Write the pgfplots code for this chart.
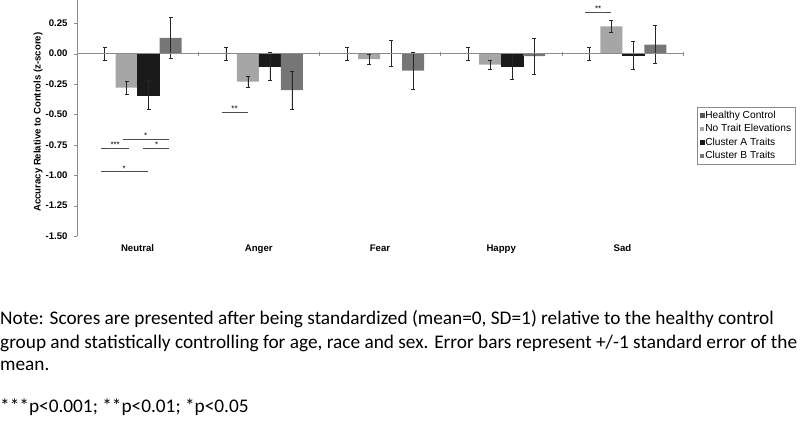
\documentclass[border=0pt]{standalone}
\usepackage{fontspec}
\setmainfont{Carlito}
\newfontfamily\arial{Liberation Sans}
\usepackage{pgfplots}
\usepackage{pgfplotstable}
\pgfplotsset{compat=1.18}

\definecolor{hc}{HTML}{595959}
\definecolor{nt}{HTML}{A6A6A6}
\definecolor{ca}{HTML}{1A1A1A}
\definecolor{cb}{HTML}{767676}
\definecolor{axgray}{HTML}{8C8C8C}

% x: 0 Neutral, 1 Anger, 2 Fear, 3 Happy, 4 Sad
\pgfplotstableread{
x y e
0 0 0.05
1 0 0.05
2 0 0.05
3 0 0.05
4 0 0.05
}\healthy
\pgfplotstableread{
x y e
0 -0.28 0.05
1 -0.23 0.045
2 -0.045 0.04
3 -0.09 0.04
4 0.225 0.05
}\notrait
\pgfplotstableread{
x y e
0 -0.34 0.12
1 -0.10 0.115
2 0.005 0.105
3 -0.105 0.105
4 -0.01 0.115
}\clusterA
\pgfplotstableread{
x y e
0 0.13 0.17
1 -0.30 0.155
2 -0.14 0.15
3 -0.02 0.15
4 0.075 0.155
}\clusterB

\newcommand\cf{\arial\fontsize{9.6}{11}\selectfont}
\newcommand\lf{\arial\fontsize{10.2}{11.5}\selectfont}
\newcommand\starfont{\arial\fontsize{8}{8}\selectfont}

\begin{document}
\begin{tikzpicture}
\useasboundingbox (0,0) rectangle (800pt,426pt);
\begin{axis}[
    at={(77pt,190pt)}, anchor=south west,
    scale only axis,
    width=606pt, height=237pt,
    xmin=-0.5, xmax=4.5,
    ymin=-1.5, ymax=0.45,
    axis y line*=left,
    axis x line*=bottom,
    x axis line style={draw=none},
    y axis line style={axgray},
    xtick={0,1,2,3,4},
    xticklabels={Neutral,Anger,Fear,Happy,Sad},
    xtick style={draw=none},
    xticklabel style={font=\cf\bfseries, yshift=-2pt},
    ytick={-1.5,-1.25,-1,-0.75,-0.5,-0.25,0,0.25},
    ytick style={axgray},
    tick align=outside,
    major tick length=3pt,
    /pgf/number format/assume math mode=true,
    yticklabel style={font=\cf\bfseries, xshift=-3pt, /pgf/number format/fixed,
        /pgf/number format/fixed zerofill, /pgf/number format/precision=2},
    ylabel={Accuracy Relative to Controls (z-score)},
    ylabel style={font=\cf\bfseries, at={(axis description cs:-0.064,0.48)}, anchor=center},
    ybar=0pt, bar width=22pt,
    error bars/y dir=both, error bars/y explicit,
    error bars/error bar style={black!85, line width=0.5pt},
    error bars/error mark options={rotate=90, black!85, mark size=2pt, line width=0.5pt},
    legend style={at={(1.023,0.544)}, anchor=north west, draw=axgray,
        font=\lf, nodes={font=\lf, inner sep=1.3pt}, inner sep=2.5pt, row sep=2pt},
    legend cell align=left,
    legend image code/.code={\fill[#1] (0pt,-2pt) rectangle (4pt,2pt);},
]
\addplot[fill=hc, draw=hc] table[x=x, y=y, y error=e] {\healthy};
\addplot[fill=nt, draw=none] table[x=x, y=y, y error=e] {\notrait};
\addplot[fill=ca, draw=ca] table[x=x, y=y, y error=e] {\clusterA};
\addplot[fill=cb, draw=none] table[x=x, y=y, y error=e] {\clusterB};
\legend{Healthy Control, No Trait Elevations, Cluster A Traits, Cluster B Traits}

% zero line and category separators
\addplot[sharp plot, axgray, line width=0.5pt, forget plot] coordinates {(-0.5,0) (4.5,0)};
\addplot[only marks, mark=|, mark size=2pt, axgray, forget plot] coordinates {(0.5,0) (1.5,0) (2.5,0) (3.5,0) (4.5,0)};

% significance brackets
\addplot[sharp plot, black!70, line width=0.5pt, forget plot] coordinates {(-0.30,-0.78) (-0.07,-0.78)};
\addplot[sharp plot, black!70, line width=0.5pt, forget plot] coordinates {(-0.12,-0.70) (0.26,-0.70)};
\addplot[sharp plot, black!70, line width=0.5pt, forget plot] coordinates {(0.045,-0.78) (0.26,-0.78)};
\addplot[sharp plot, black!70, line width=0.5pt, forget plot] coordinates {(-0.30,-0.97) (0.086,-0.97)};
\addplot[sharp plot, black!70, line width=0.5pt, forget plot] coordinates {(0.70,-0.48) (0.91,-0.48)};
\addplot[sharp plot, black!70, line width=0.5pt, forget plot] coordinates {(3.69,0.345) (3.91,0.345)};
\node[font=\starfont, anchor=south, inner sep=0.3pt] at (axis cs:-0.185,-0.78) {***};
\node[font=\starfont, anchor=south, inner sep=0.3pt] at (axis cs:0.067,-0.70) {*};
\node[font=\starfont, anchor=south, inner sep=0.3pt] at (axis cs:0.157,-0.78) {*};
\node[font=\starfont, anchor=south, inner sep=0.3pt] at (axis cs:-0.11,-0.97) {*};
\node[font=\starfont, anchor=south, inner sep=0.3pt] at (axis cs:0.80,-0.48) {**};
\node[font=\starfont, anchor=south, inner sep=0.3pt] at (axis cs:3.80,0.345) {**};
\end{axis}

\begin{scope}[every node/.style={anchor=base west, inner sep=0pt, font=\fontsize{19.3}{23}\selectfont}]
\node at (0pt,102pt) {Note: Scores are presented after being standardized (mean=0, SD=1) relative to the healthy control};
\node at (0pt,78pt) {group and statistically controlling for age, race and sex. Error bars represent +/-1 standard error of the};
\node at (0pt,56pt) {mean.};
\node at (0pt,14pt) {***p<0.001; **p<0.01; *p<0.05};
\end{scope}
\end{tikzpicture}
\end{document}
